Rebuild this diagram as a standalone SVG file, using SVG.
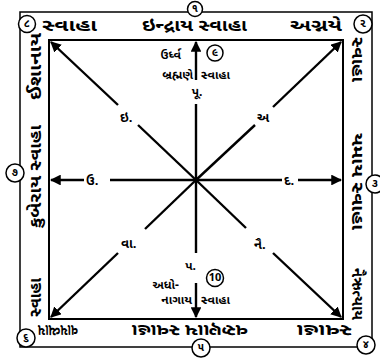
<svg xmlns="http://www.w3.org/2000/svg" width="380" height="362" viewBox="0 0 380 362">
<defs>
<marker id="ah" viewBox="0 0 10 10" refX="9" refY="5" markerWidth="4.5" markerHeight="4.5" orient="auto" markerUnits="strokeWidth">
<path d="M0,0 L10,5 L0,10 Z" fill="#000"/>
</marker>
<style>
.t{font-family:"Noto Sans Gujarati","Noto Sans",sans-serif;fill:#000;font-weight:bold}
.e{font-size:17px}
.s{font-size:12px}
.l{font-size:13px}
.n{font-size:11px;text-anchor:middle;dominant-baseline:central}
.c{fill:#fff;stroke:#000;stroke-width:1.5}
.ln{stroke:#000;stroke-width:2.4;fill:none}
.ar{stroke:#000;stroke-width:2.4;fill:none;marker-end:url(#ah)}
</style>
</defs>
<rect width="380" height="362" fill="#fff"/>
<g id="frame">
<rect x="20" y="12" width="352" height="335" fill="none" stroke="#000" stroke-width="1.5"/>
<rect x="49" y="40" width="294" height="279" fill="none" stroke="#000" stroke-width="2"/>
</g>
<g id="connectors">
<line class="ar" x1="196" y1="80" x2="196" y2="42"/>
<line class="ln" x1="196" y1="104" x2="196" y2="180"/>
<line class="ln" x1="196" y1="180" x2="196" y2="253"/>
<line class="ar" x1="196" y1="283" x2="196" y2="317"/>
<line class="ar" x1="84" y1="180" x2="51" y2="180"/>
<line class="ln" x1="110" y1="180" x2="282" y2="180"/>
<line class="ar" x1="298" y1="180" x2="341" y2="180"/>
<line class="ar" x1="118" y1="105" x2="51" y2="42"/>
<line class="ln" x1="138" y1="125" x2="196" y2="180"/>
<line class="ar" x1="273" y1="107" x2="341" y2="42"/>
<line class="ln" x1="255" y1="125" x2="196" y2="180"/>
<line class="ar" x1="118" y1="253" x2="51" y2="317"/>
<line class="ln" x1="145" y1="229" x2="196" y2="180"/>
<line class="ar" x1="273" y1="253" x2="341" y2="317"/>
<line class="ln" x1="246" y1="228" x2="196" y2="180"/>
</g>
<g id="dir-labels" class="t l">
<text x="120" y="122">ઇ.</text>
<text x="257" y="122">અ</text>
<text x="86" y="185">ઉ.</text>
<text x="284" y="185">દ.</text>
<text x="121" y="248">વા.</text>
<text x="254" y="249">નૈ.</text>
</g>
<g id="top-center" class="t s">
<text x="181" y="59" text-anchor="end">ઉર્ધ્વ</text>
<text x="193" y="79" text-anchor="end">બ્રહ્મણે</text>
<text x="201" y="79">સ્વાહા</text>
<text x="197" y="96" text-anchor="middle">પૂ.</text>
</g>
<g id="c9"><circle class="c" cx="215" cy="53" r="8"/><text class="t n" x="215" y="53">૯</text></g>
<g id="bottom-center" class="t s">
<text x="196" y="270" text-anchor="end">પ.</text>
<text x="179" y="289" text-anchor="end">અધો-</text>
<text x="192" y="304" text-anchor="end">નાગાય</text>
<text x="201" y="304">સ્વાહા</text>
</g>
<g id="c10"><circle class="c" cx="215" cy="278" r="8.5"/><text class="t n" x="215" y="278">10</text></g>
<g id="edge-top" class="t e">
<text x="42" y="31" textLength="55" lengthAdjust="spacingAndGlyphs">સ્વાહા</text>
<text x="142" y="31" textLength="105" lengthAdjust="spacingAndGlyphs">ઇન્દ્રાય સ્વાહા</text>
<text x="290" y="31" textLength="52" lengthAdjust="spacingAndGlyphs">અગ્નયે</text>
</g>
<g id="edge-right" class="t e">
<text transform="translate(352,37) rotate(90)" textLength="45" lengthAdjust="spacingAndGlyphs">સ્વાહા</text>
<text transform="translate(352,133) rotate(90)" textLength="97" lengthAdjust="spacingAndGlyphs">યમાય સ્વાહા</text>
<text transform="translate(352,268) rotate(90)" textLength="52" lengthAdjust="spacingAndGlyphs">નૈઋત્યાય</text>
</g>
<g id="edge-bottom" class="t e">
<text transform="translate(352,325) rotate(180)" textLength="55" lengthAdjust="spacingAndGlyphs">સ્વાહા</text>
<text transform="translate(248,325) rotate(180)" textLength="116" lengthAdjust="spacingAndGlyphs">વરુણાય સ્વાહા</text>
<text transform="translate(78,325) rotate(180)" textLength="40" lengthAdjust="spacingAndGlyphs">વાયવ્યાય</text>
</g>
<g id="edge-left" class="t e">
<text transform="translate(41,317) rotate(-90)" textLength="39" lengthAdjust="spacingAndGlyphs">સ્વાહા</text>
<text transform="translate(41,228) rotate(-90)" textLength="103" lengthAdjust="spacingAndGlyphs">કુબેરાય સ્વાહા</text>
<text transform="translate(41,100) rotate(-90)" textLength="67" lengthAdjust="spacingAndGlyphs">ઈશાનાય</text>
</g>
<g id="c1"><circle class="c" cx="195" cy="9" r="7.5"/><text class="t n" x="195" y="9">૧</text></g>
<g id="c2"><circle class="c" cx="363" cy="24" r="9"/><text class="t n" x="363" y="24">૨</text></g>
<g id="c3"><circle class="c" cx="375" cy="184" r="9"/><text class="t n" x="375" y="184">૩</text></g>
<g id="c4"><circle class="c" cx="366" cy="345" r="9"/><text class="t n" x="366" y="345">૪</text></g>
<g id="c5"><circle class="c" cx="201" cy="348" r="9"/><text class="t n" x="201" y="348">૫</text></g>
<g id="c6"><circle class="c" cx="26" cy="338" r="9"/><text class="t n" x="26" y="338">૬</text></g>
<g id="c7"><circle class="c" cx="15" cy="173" r="9"/><text class="t n" x="15" y="173">૭</text></g>
<g id="c8"><circle class="c" cx="27" cy="24" r="8.5"/><text class="t n" x="27" y="24">૮</text></g>
</svg>
